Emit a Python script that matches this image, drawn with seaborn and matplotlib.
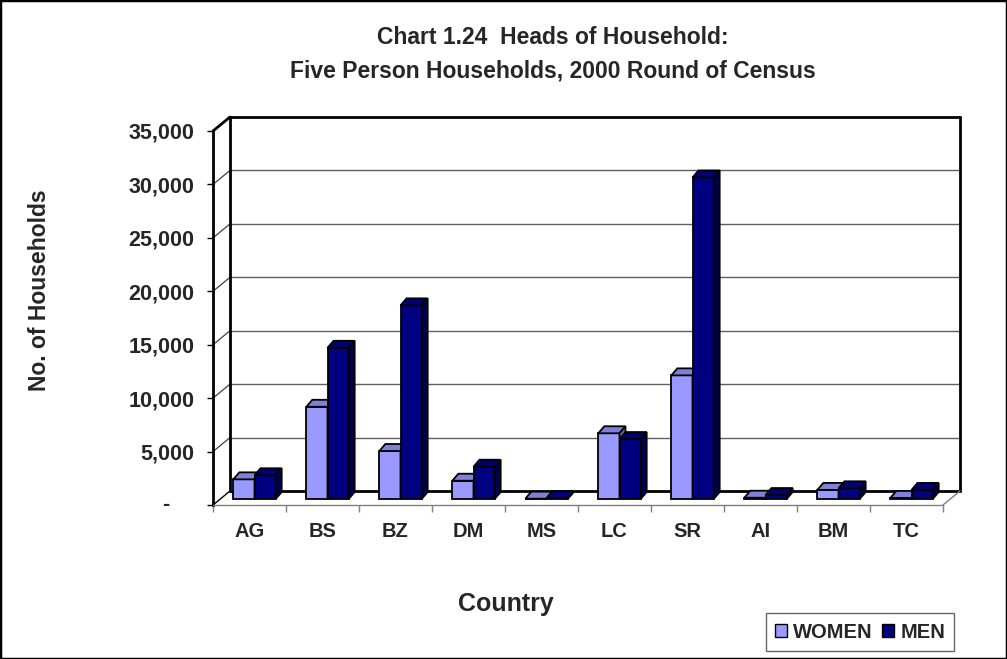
import matplotlib
matplotlib.use('Agg')
import matplotlib.pyplot as plt
from matplotlib.patches import Polygon, Patch, Rectangle
import seaborn as sns
import pandas as pd

COUNTRIES = ['AG', 'BS', 'BZ', 'DM', 'MS', 'LC', 'SR', 'AI', 'BM', 'TC']
WOMEN = [1840, 8630, 4490, 1710, 30, 6150, 11570, 120, 850, 100]
MEN = [2220, 14150, 18120, 3020, 80, 5610, 30090, 370, 1000, 850]
SERIES = ['WOMEN', 'MEN']
Y_TICKS = [0, 5000, 10000, 15000, 20000, 25000, 30000, 35000]
Y_TICK_LABELS = ['', '5,000', '10,000', '15,000', '20,000', '25,000', '30,000', '35,000']

COLORS = {'WOMEN': {'front': '#9999FF', 'top': '#8080D8', 'side': '#6B6BB3'},
          'MEN': {'front': '#000080', 'top': '#000070', 'side': '#00004D'}}

sns.set_style('white')
plt.rcParams['font.family'] = ['Liberation Sans', 'DejaVu Sans']
plt.rcParams['font.weight'] = 'bold'

W_PX, H_PX = 1007, 659
AX_L, AX_R, AX_T, AX_B = 213, 943, 131, 505   # front plane, pixels
YMAX = 35000
UX = len(COUNTRIES) / (AX_R - AX_L)   # data units per pixel
UY = YMAX / (AX_B - AX_T)

# depth offsets (pixels -> data)
WALL_DX, WALL_DY = 17 * UX, 14 * UY
BAR_SX, BAR_SY = 5 * UX, 6 * UY
BAR_DX, BAR_DY = 6 * UX, 7 * UY


def main():
    df = pd.DataFrame({'Country': COUNTRIES * 2,
                       'Households': WOMEN + MEN,
                       'Sex': ['WOMEN'] * len(WOMEN) + ['MEN'] * len(MEN)})

    fig = plt.figure(figsize=(W_PX / 100, H_PX / 100), dpi=100)
    ax = fig.add_axes([AX_L / W_PX, 1 - AX_B / H_PX,
                       (AX_R - AX_L) / W_PX, (AX_B - AX_T) / H_PX])

    sns.barplot(data=df, x='Country', y='Households', hue='Sex',
                hue_order=SERIES, order=COUNTRIES,
                palette={s: COLORS[s]['front'] for s in SERIES},
                saturation=1, width=0.58, gap=0, edgecolor='black',
                linewidth=1.3, legend=False, ax=ax)

    ax.set_xlim(-0.5, len(COUNTRIES) - 0.5)
    ax.set_ylim(0, YMAX)
    x0, x1 = ax.get_xlim()

    # fake 3D bars: shift front faces and add top / side faces
    for z, (series, container) in enumerate(zip(SERIES, ax.containers)):
        for bar in container:
            bx = bar.get_x() + BAR_SX
            by = BAR_SY
            w, h = bar.get_width(), bar.get_height()
            bar.set_x(bx)
            bar.set_y(by)
            bar.set_zorder(3 + z)
            top = Polygon([(bx, by + h), (bx + w, by + h),
                           (bx + w + BAR_DX, by + h + BAR_DY),
                           (bx + BAR_DX, by + h + BAR_DY)],
                          facecolor=COLORS[series]['top'], edgecolor='black',
                          linewidth=1.3, zorder=3 + z)
            side = Polygon([(bx + w, by), (bx + w + BAR_DX, by + BAR_DY),
                            (bx + w + BAR_DX, by + h + BAR_DY), (bx + w, by + h)],
                           facecolor=COLORS[series]['side'], edgecolor='black',
                           linewidth=1.3, zorder=3 + z)
            ax.add_patch(top)
            ax.add_patch(side)

    # back wall, side wall and floor
    for v in Y_TICKS[1:]:
        strong = v == YMAX
        ax.plot([x0 + WALL_DX, x1 + WALL_DX], [v + WALL_DY] * 2,
                color='black' if strong else '#606060',
                lw=2 if strong else 1, zorder=1, clip_on=False)
        ax.plot([x0, x0 + WALL_DX], [v, v + WALL_DY],
                color='black' if strong else '#404040',
                lw=2 if strong else 0.9, zorder=1, clip_on=False)
    for xe in (x0 + WALL_DX, x1 + WALL_DX):
        ax.plot([xe, xe], [WALL_DY, YMAX + WALL_DY], color='black', lw=2,
                zorder=1, clip_on=False)
    ax.plot([x0 + WALL_DX, x1 + WALL_DX], [WALL_DY, WALL_DY], color='black',
            lw=2, zorder=1, clip_on=False)
    ax.plot([x0, x0 + WALL_DX], [0, WALL_DY], color='black', lw=1,
            zorder=1, clip_on=False)
    ax.plot([x1, x1 + WALL_DX], [0, WALL_DY], color='#808080', lw=1,
            zorder=1, clip_on=False)

    # axes styling
    for side in ('top', 'right'):
        ax.spines[side].set_visible(False)
    ax.spines['left'].set_color('black')
    ax.spines['left'].set_linewidth(2)
    ax.spines['bottom'].set_color('#808080')
    ax.spines['bottom'].set_linewidth(1)
    ax.patch.set_alpha(0)

    ax.set_yticks(Y_TICKS)
    ax.set_yticklabels(Y_TICK_LABELS)
    ax.tick_params(axis='y', length=4.3, width=1, color='black', pad=9,
                   labelsize=15.5, left=True)
    ax.annotate('-', xy=(x0, 0), xytext=(-34, 0), textcoords='offset points',
                ha='center', va='center', fontsize=15.5, annotation_clip=False)

    ax.set_xticks(range(len(COUNTRIES)))
    ax.set_xticklabels(COUNTRIES)
    ax.set_xticks([i - 0.5 for i in range(len(COUNTRIES) + 1)], minor=True)
    ax.tick_params(axis='x', which='major', length=0, pad=12, labelsize=14.5)
    ax.tick_params(axis='x', which='minor', length=5, width=1,
                   color='#808080', bottom=True)
    ax.set_xlabel('')
    ax.set_ylabel('')

    fig.text(553 / W_PX, 1 - 37 / H_PX, 'Chart 1.24  Heads of Household:',
             ha='center', va='center', fontsize=16.5)
    fig.text(553 / W_PX, 1 - 71 / H_PX,
             'Five Person Households, 2000 Round of Census',
             ha='center', va='center', fontsize=16.5)
    fig.text(40 / W_PX, 1 - 290 / H_PX, 'No. of Households', rotation=90,
             ha='center', va='center', fontsize=16.5)
    fig.text(506 / W_PX, 1 - 604 / H_PX, 'Country', ha='center', va='center',
             fontsize=18)

    handles = [Patch(facecolor=COLORS[s]['front'], edgecolor='black', lw=1)
               for s in SERIES]
    leg = fig.legend(handles, SERIES, loc='center',
                     bbox_to_anchor=(860 / W_PX, 1 - 632 / H_PX),
                     ncol=2, fontsize=14.5, frameon=True, fancybox=False,
                     edgecolor='#404040', handlelength=0.6, handleheight=0.6,
                     handletextpad=0.3, columnspacing=0.5, borderpad=0.45,
                     borderaxespad=0)
    leg.get_frame().set_linewidth(1)

    fig.patches.append(Rectangle((0, 0), 1, 1, transform=fig.transFigure,
                                 fill=False, edgecolor='black', lw=2.5))

    fig.savefig('out.png', dpi=100)


if __name__ == '__main__':
    main()
